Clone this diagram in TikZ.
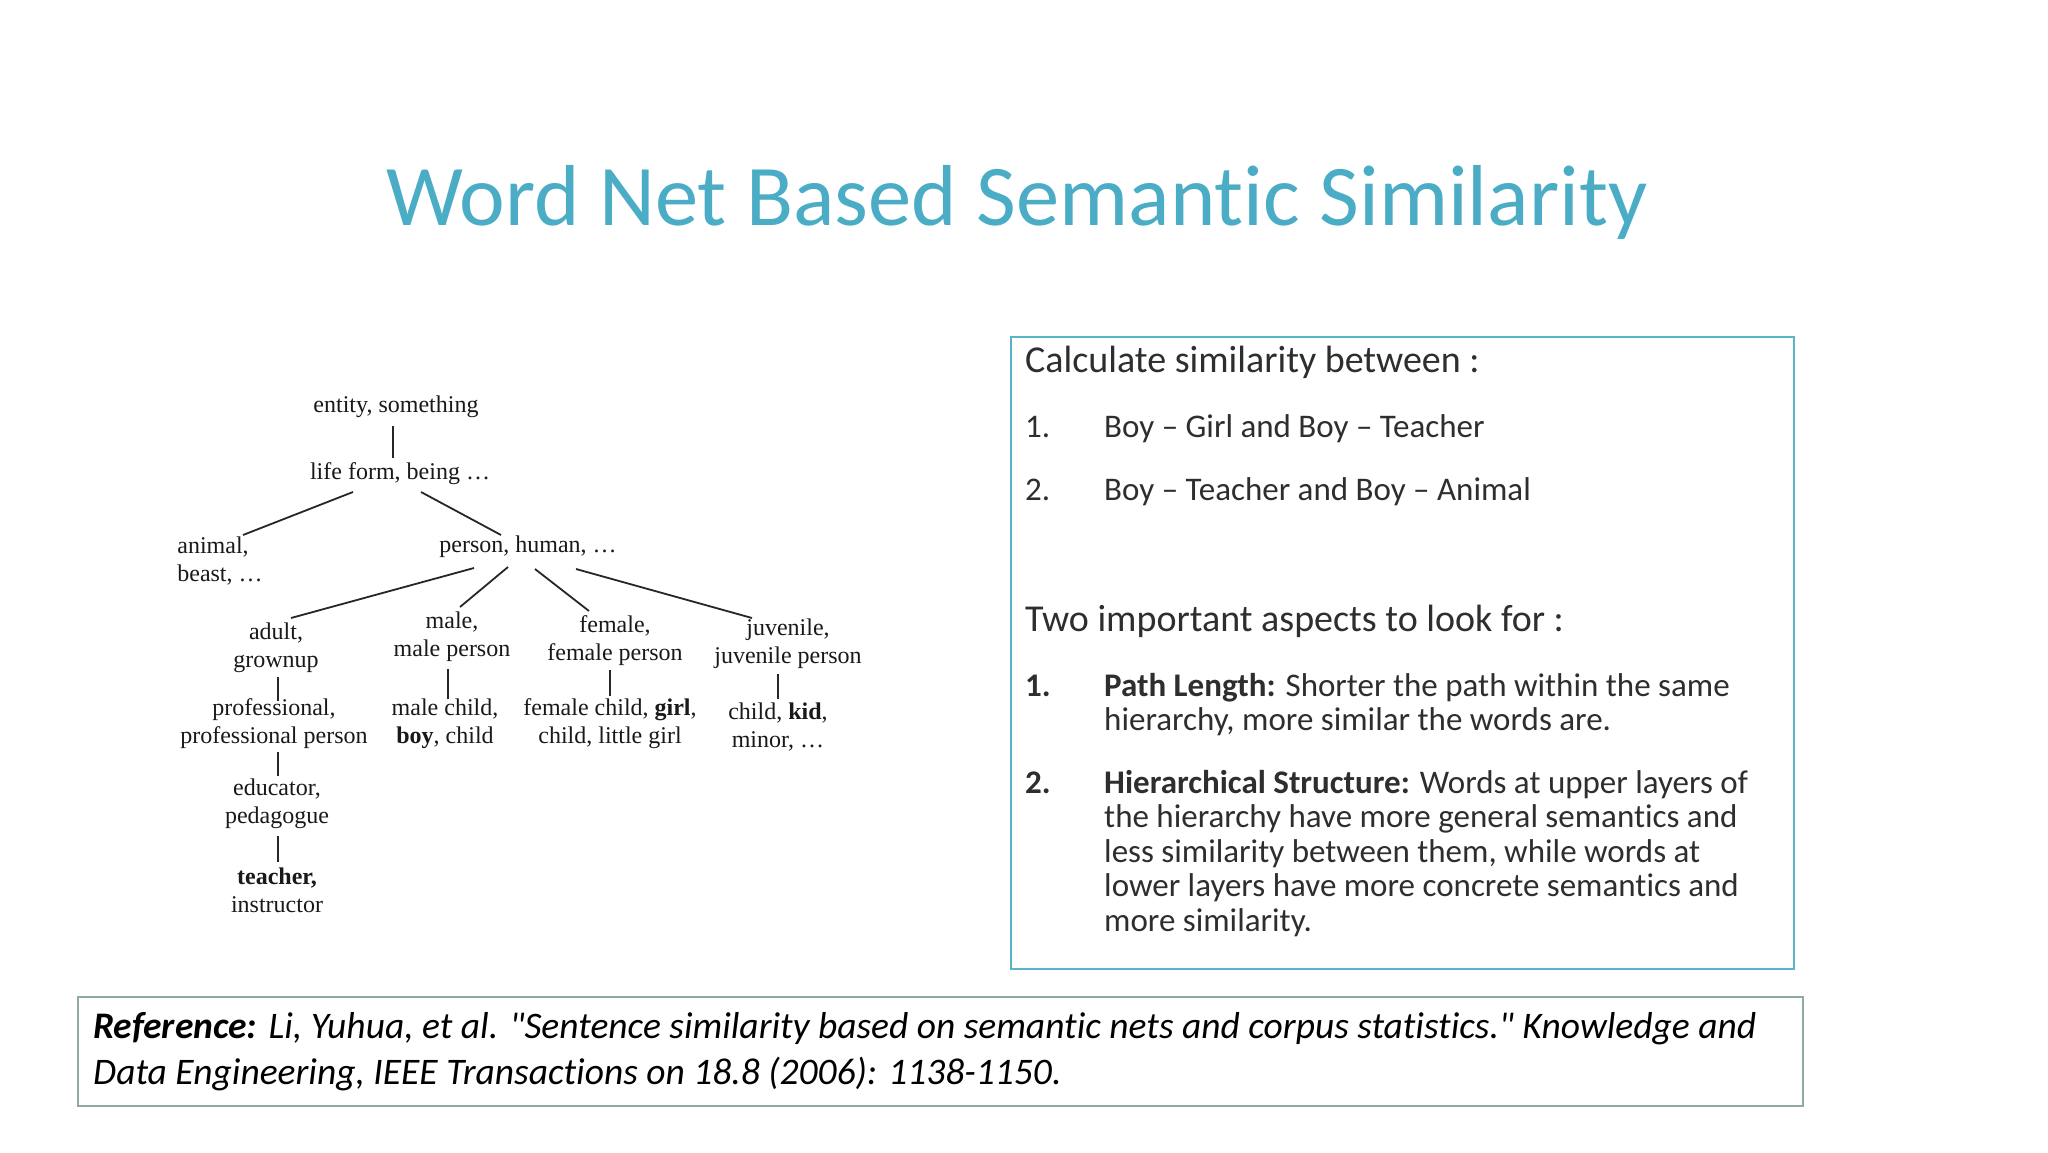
\documentclass[tikz,border=0pt]{standalone}
\usepackage{fontspec}
\setmainfont{Carlito}
\newfontfamily\slide{Carlito}[RawFeature={-liga;-clig;-calt;-dlig}]
\newfontfamily\treefont{Liberation Serif}
\usetikzlibrary{calc}
\definecolor{titleblue}{HTML}{4BACC6}
\definecolor{boxteal}{HTML}{5AB4C8}
\definecolor{refborder}{HTML}{8FAAA3}
\definecolor{bodytext}{HTML}{2E2E2E}
\begin{document}
\begin{tikzpicture}[x=1pt,y=-1pt,
  tn/.style={font=\treefont\fontsize{24}{28}\selectfont, align=center, inner sep=0pt, text=black!90},
  tl/.style={line width=1.8pt, black!85},
  bt/.style={font=\slide\fontsize{33}{34.5}\selectfont, text=bodytext, anchor=base west, inner sep=0pt},
  ht/.style={font=\slide\fontsize{38}{40}\selectfont, text=bodytext, anchor=base west, inner sep=0pt},
  rt/.style={font=\slide\fontsize{37.5}{40}\selectfont\itshape, text=black, anchor=base west, inner sep=0pt}]
\useasboundingbox (0,0) rectangle (2048,1152);
\fill[white] (0,0) rectangle (2048,1152);

% title
\node[font=\slide\fontsize{86.5}{90}\selectfont, text=titleblue, anchor=base, inner sep=0pt] (title) at (1017,225) {Word Net Based Semantic Similarity};

% right box
\node[draw=boxteal, line width=2pt, minimum width=783pt, minimum height=632pt, anchor=north west, inner sep=0pt] (box) at (1010,336) {};
\node[ht] (l1) at (1025,372) {Calculate similarity between :};
\node[bt] (n1) at (1025,437) {1.};
\node[bt] (i1) at (1104,437) {Boy – Girl and Boy – Teacher};
\node[bt] (n2) at (1025,500) {2.};
\node[bt] (i2) at (1104,500) {Boy – Teacher and Boy – Animal};
\node[ht] (l2) at (1025,631) {Two important aspects to look for :};
\node[bt] (m1) at (1025,696) {\bfseries 1.};
\node[bt] (p1a) at (1104,696) {\textbf{Path Length:} Shorter the path within the same};
\node[bt] (p1b) at (1104,730) {hierarchy, more similar the words are.};
\node[bt] (m2) at (1025,793) {\bfseries 2.};
\node[bt] (p2a) at (1104,793) {\textbf{Hierarchical Structure:} Words at upper layers of};
\node[bt] (p2b) at (1104,827) {the hierarchy have more general semantics and};
\node[bt] (p2c) at (1104,862) {less similarity between them, while words at};
\node[bt] (p2d) at (1104,896) {lower layers have more concrete semantics and};
\node[bt] (p2e) at (1104,931) {more similarity.};

% reference box
\node[draw=refborder, line width=2pt, minimum width=1725pt, minimum height=109pt, anchor=north west, inner sep=0pt] (refbox) at (77,996) {};
\node[rt] (r1) at (93,1038) {\textbf{Reference:} Li, Yuhua, et al. "Sentence similarity based on semantic nets and corpus statistics." Knowledge and};
\node[rt] (r2) at (93,1084) {Data Engineering, IEEE Transactions on 18.8 (2006): 1138-1150.};

% tree
\node[tn] (entity) at (396,407) {entity, something};
\node[tn] (life) at (400,474) {life form, being …};
\node[tn, align=left] (animal) at (220,561) {animal,\\beast, …};
\node[tn] (person) at (528,547) {person, human, …};
\node[tn] (adult) at (276,648) {adult,\\grownup};
\node[tn] (male) at (452,637) {male,\\male person};
\node[tn] (female) at (615,641) {female,\\female person};
\node[tn] (juvenile) at (788,644) {juvenile,\\juvenile person};
\node[tn] (prof) at (274,724) {professional,\\professional person};
\node[tn] (malechild) at (445,724) {male child,\\\textbf{boy}, child};
\node[tn] (femalechild) at (610,724) {female child, \textbf{girl},\\child, little girl};
\node[tn] (kid) at (778,727) {child, \textbf{kid},\\minor, …};
\node[tn] (educator) at (277,804) {educator,\\pedagogue};
\node[tn] (teacher) at (277,890) {\textbf{teacher,}\\instructor};

\draw[tl] ($(entity.center)+(-3,19)$) -- ($(life.center)+(-7,-16)$);
\draw[tl] ($(life.center)+(-47,18)$) -- ($(animal.center)+(23,-26)$);
\draw[tl] ($(life.center)+(21,18)$) -- ($(person.center)+(-27,-12)$);
\draw[tl] ($(person.center)+(-54,21)$) -- ($(adult.center)+(15,-30)$);
\draw[tl] ($(person.center)+(-20,20)$) -- ($(male.center)+(8,-30)$);
\draw[tl] ($(person.center)+(7,22)$) -- ($(female.center)+(-26,-30)$);
\draw[tl] ($(person.center)+(48,22)$) -- ($(juvenile.center)+(-36,-26)$);
\draw[tl] ($(adult.center)+(2,29)$) -- ($(prof.center)+(4,-23)$);
\draw[tl] ($(male.center)+(-4,32)$) -- ($(malechild.center)+(3,-25)$);
\draw[tl] ($(female.center)+(-5,29)$) -- ($(femalechild.center)+(0,-28)$);
\draw[tl] ($(juvenile.center)+(-10,30)$) -- ($(kid.center)+(0,-28)$);
\draw[tl] ($(prof.center)+(4,28)$) -- ($(educator.center)+(1,-28)$);
\draw[tl] ($(educator.center)+(1,32)$) -- ($(teacher.center)+(1,-28)$);
\end{tikzpicture}
\end{document}
